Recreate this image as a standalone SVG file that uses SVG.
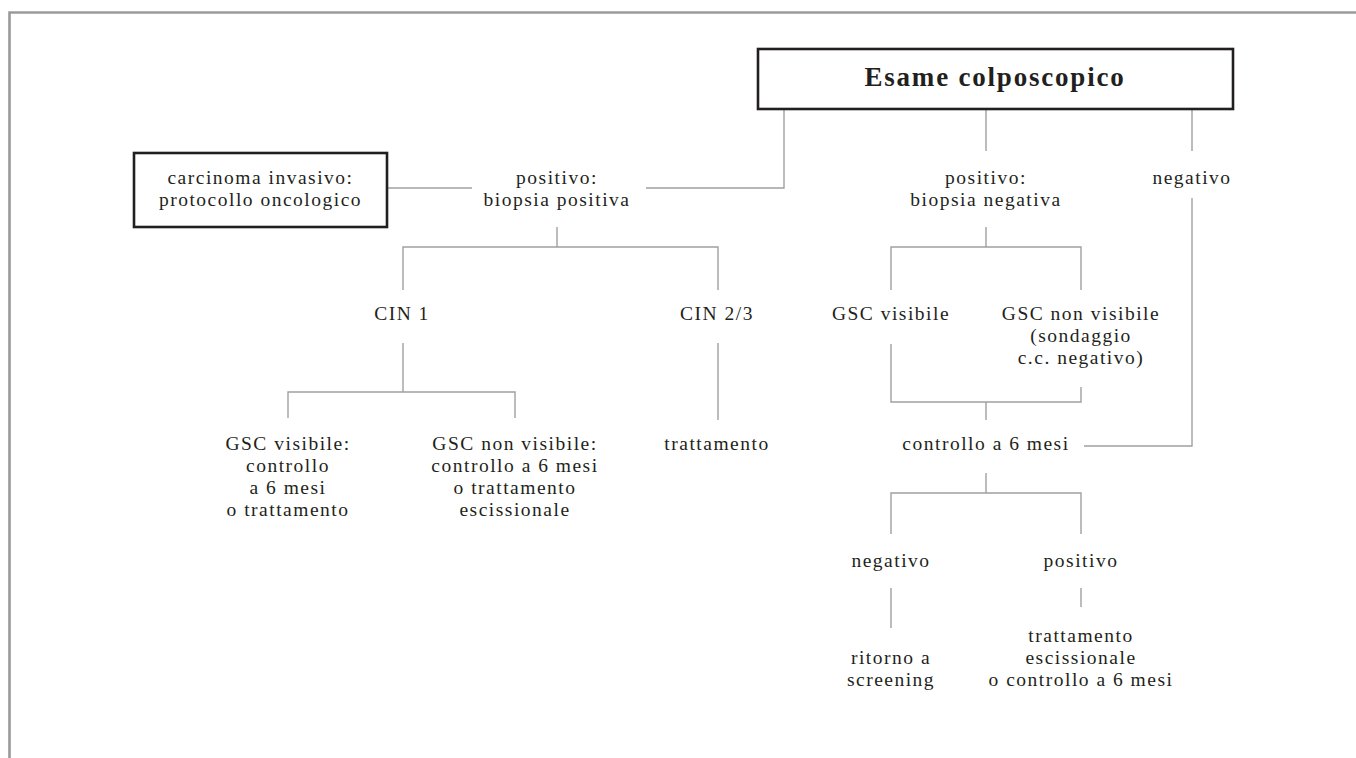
<svg xmlns="http://www.w3.org/2000/svg" width="1356" height="758" viewBox="0 0 1356 758">
<style>
.t{font-family:"Liberation Serif","Times New Roman",serif;font-size:19.5px;fill:#231f20;text-anchor:middle;letter-spacing:1.5px}
.b{font-family:"Liberation Serif","Times New Roman",serif;font-size:27px;font-weight:bold;fill:#231f20;text-anchor:middle;letter-spacing:1.8px}
.box{fill:#fff;stroke:#231f20;stroke-width:2.6}
.c{fill:none;stroke:#a0a0a0;stroke-width:1.4}
.frame{fill:none;stroke:#9a9a9a;stroke-width:2.6}
</style>
<rect width="1356" height="758" fill="#fff"/>
<path class="frame" d="M9.5,758 V12.5 H1356"/>
<g id="connectors">
<path class="c" d="M784,109 V188 H646"/>
<path class="c" d="M986,109 V151"/>
<path class="c" d="M1192,109 V151"/>
<path class="c" d="M1192,198 V446 H1084"/>
<path class="c" d="M387,188 H472"/>
<path class="c" d="M557,227 V247 M403,290 V247 H718 V290"/>
<path class="c" d="M403,343 V392 M288,418 V392 H515 V418"/>
<path class="c" d="M718,343 V420"/>
<path class="c" d="M986,227 V247 M891,290 V247 H1081 V290"/>
<path class="c" d="M891,344 V402 H1081 V387 M986,402 V420"/>
<path class="c" d="M986,473 V493 M891,534 V493 H1081 V534"/>
<path class="c" d="M891,588 V628 M1081,588 V607"/>
</g>
<g id="esame">
<rect class="box" x="758" y="49" width="475" height="60"/>
<text class="b" x="995" y="86">Esame colposcopico</text>
</g>
<g id="carcinoma">
<rect class="box" x="134" y="153" width="253" height="74"/>
<text class="t" x="260.5" y="184">carcinoma invasivo:</text>
<text class="t" x="260.5" y="206">protocollo oncologico</text>
</g>
<g id="biopsia-positiva">
<text class="t" x="557" y="184">positivo:</text>
<text class="t" x="557" y="206">biopsia positiva</text>
</g>
<g id="biopsia-negativa">
<text class="t" x="986" y="184">positivo:</text>
<text class="t" x="986" y="206">biopsia negativa</text>
</g>
<g id="negativo">
<text class="t" x="1192" y="184">negativo</text>
</g>
<g id="cin1"><text class="t" x="402" y="320">CIN 1</text></g>
<g id="cin23"><text class="t" x="717" y="320">CIN 2/3</text></g>
<g id="gsc-visibile"><text class="t" x="891" y="320">GSC visibile</text></g>
<g id="gsc-non-visibile">
<text class="t" x="1081" y="320">GSC non visibile</text>
<text class="t" x="1081" y="342">(sondaggio</text>
<text class="t" x="1081" y="364">c.c. negativo)</text>
</g>
<g id="cin1-gsc-visibile">
<text class="t" x="288" y="450">GSC visibile:</text>
<text class="t" x="288" y="472">controllo</text>
<text class="t" x="288" y="494">a 6 mesi</text>
<text class="t" x="288" y="516">o trattamento</text>
</g>
<g id="cin1-gsc-non-visibile">
<text class="t" x="515" y="450">GSC non visibile:</text>
<text class="t" x="515" y="472">controllo a 6 mesi</text>
<text class="t" x="515" y="494">o trattamento</text>
<text class="t" x="515" y="516">escissionale</text>
</g>
<g id="trattamento"><text class="t" x="717" y="450">trattamento</text></g>
<g id="controllo"><text class="t" x="986" y="450">controllo a 6 mesi</text></g>
<g id="ctrl-negativo"><text class="t" x="891" y="567">negativo</text></g>
<g id="ctrl-positivo"><text class="t" x="1081" y="567">positivo</text></g>
<g id="ritorno">
<text class="t" x="891" y="664">ritorno a</text>
<text class="t" x="891" y="686">screening</text>
</g>
<g id="trattamento-escissionale">
<text class="t" x="1081" y="642">trattamento</text>
<text class="t" x="1081" y="664">escissionale</text>
<text class="t" x="1081" y="686">o controllo a 6 mesi</text>
</g>
</svg>
